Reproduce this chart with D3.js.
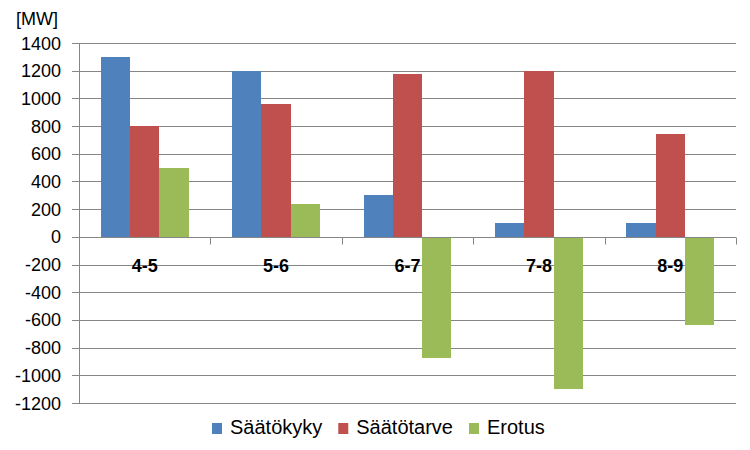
<!DOCTYPE html>
<html>
<head>
<meta charset="utf-8">
<script src="https://cdn.jsdelivr.net/npm/d3@7"></script>
<style>
  body { margin: 0; background: #fff; }
  text { font-family: "Liberation Sans", Arial, sans-serif; fill: #000; }
</style>
</head>
<body>
<div id="vis"></div>
<script>
// data
var categories = ["4-5", "5-6", "6-7", "7-8", "8-9"];
var seriesNames = ["Säätökyky", "Säätötarve", "Erotus"];
var saatokyky  = [1300, 1200, 300, 100, 100];
var saatotarve = [800, 960, 1175, 1200, 740];
var erotus     = [500, 240, -875, -1100, -640];
var yTicks = [1400, 1200, 1000, 800, 600, 400, 200, 0, -200, -400, -600, -800, -1000, -1200];

var colors = ["#4F81BD", "#C0504D", "#9BBB59"];
var gridColor = "#868686";

var width = 750, height = 450;
var margin = { top: 43, right: 14, bottom: 47, left: 79 };

var svg = d3.select("#vis").append("svg")
  .attr("width", width)
  .attr("height", height);

var x = d3.scaleBand()
  .domain(categories)
  .range([margin.left, width - margin.right])
  .paddingInner(0)
  .paddingOuter(0);

var inner = d3.scaleBand()
  .domain(seriesNames)
  .range([0, x.bandwidth()])
  .paddingInner(0)
  .paddingOuter(0.74);

var y = d3.scaleLinear()
  .domain([-1200, 1400])
  .range([height - margin.bottom, margin.top]);

////////// grid + y axis //////////
var grid = svg.append("g");
grid.selectAll("line")
  .data(yTicks)
  .enter()
  .append("line")
  .attr("x1", margin.left - 7)
  .attr("x2", width - margin.right)
  .attr("y1", function (d) { return Math.round(y(d)) + 0.5; })
  .attr("y2", function (d) { return Math.round(y(d)) + 0.5; })
  .attr("stroke", gridColor)
  .attr("stroke-width", 1);

grid.selectAll("text")
  .data(yTicks)
  .enter()
  .append("text")
  .attr("x", margin.left - 18)
  .attr("y", function (d) { return y(d) + 6.5; })
  .attr("text-anchor", "end")
  .style("font-size", "18px")
  .text(function (d) { return d; });

svg.append("line")
  .attr("x1", margin.left + 0.5)
  .attr("x2", margin.left + 0.5)
  .attr("y1", y(1400))
  .attr("y2", y(-1200))
  .attr("stroke", gridColor);

svg.append("text")
  .attr("x", 16)
  .attr("y", 25)
  .style("font-size", "18px")
  .text("[MW]");

////////// bars //////////
var seriesData = [saatokyky, saatotarve, erotus];

seriesData.forEach(function (vals, si) {
  svg.append("g")
    .selectAll("rect")
    .data(vals)
    .enter()
    .append("rect")
    .attr("x", function (d, i) { return x(categories[i]) + inner(seriesNames[si]); })
    .attr("width", inner.bandwidth())
    .attr("y", function (d) { return y(Math.max(0, d)); })
    .attr("height", function (d) { return Math.abs(y(d) - y(0)); })
    .attr("fill", colors[si])
    .attr("shape-rendering", "crispEdges");
});

////////// x axis (zero line) //////////
var y0 = Math.round(y(0)) + 0.5;
svg.append("line")
  .attr("x1", margin.left)
  .attr("x2", width - margin.right)
  .attr("y1", y0)
  .attr("y2", y0)
  .attr("stroke", gridColor);

var bounds = categories.map(function (c) { return x(c); }).concat([x.range()[1]]);
svg.append("g")
  .selectAll("line")
  .data(bounds)
  .enter()
  .append("line")
  .attr("x1", function (d) { return Math.round(d) + 0.5; })
  .attr("x2", function (d) { return Math.round(d) + 0.5; })
  .attr("y1", y0)
  .attr("y2", y0 + 7)
  .attr("stroke", gridColor);

svg.append("g")
  .selectAll("text")
  .data(categories)
  .enter()
  .append("text")
  .attr("x", function (d) { return x(d) + x.bandwidth() / 2; })
  .attr("y", y0 + 34)
  .attr("text-anchor", "middle")
  .style("font-size", "18px")
  .style("font-weight", "bold")
  .text(function (d) { return d; });

////////// legend //////////
var legend = svg.append("g");
var lx = 212, ly = 434;
seriesNames.forEach(function (name, i) {
  legend.append("rect")
    .attr("x", lx)
    .attr("y", ly - 11)
    .attr("width", 10)
    .attr("height", 11)
    .attr("fill", colors[i]);
  var t = legend.append("text")
    .attr("x", lx + 18)
    .attr("y", ly)
    .style("font-size", "20px")
    .text(name);
  lx = lx + 18 + t.node().getComputedTextLength() + 16;
});
</script>
</body>
</html>
